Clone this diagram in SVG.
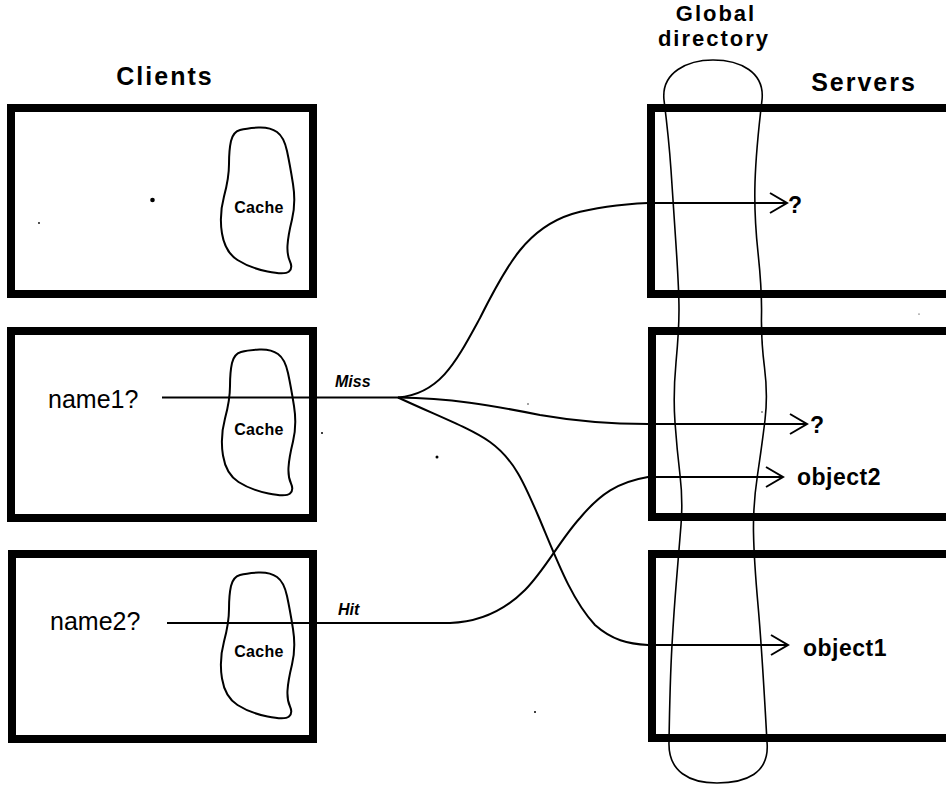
<svg xmlns="http://www.w3.org/2000/svg" width="946" height="785" viewBox="0 0 946 785">
<style>
.box{fill:none;stroke:#000;stroke-width:8}
.blob{fill:none;stroke:#000;stroke-width:2;stroke-linejoin:round}
.dir{fill:none;stroke:#000;stroke-width:1.6}
.conn{fill:none;stroke:#000;stroke-width:2}
.title{font-family:"Liberation Sans",Arial,sans-serif;font-weight:bold;font-size:25px;fill:#000;letter-spacing:2px;text-anchor:middle}
.small-title{font-size:22px;letter-spacing:2px}
.lbl{font-family:"Liberation Sans",Arial,sans-serif;font-size:25px;fill:#000}
.obj{font-family:"Liberation Sans",Arial,sans-serif;font-weight:bold;font-size:23px;fill:#000;letter-spacing:0.5px}
.cache{font-family:"Liberation Sans",Arial,sans-serif;font-weight:bold;font-size:16px;fill:#000;text-anchor:middle;letter-spacing:0.3px}
.edge{font-family:"Liberation Sans",Arial,sans-serif;font-weight:bold;font-style:italic;font-size:16px;fill:#000}
</style>
<defs>
<path id="cacheShape" d="M258.5 127.5 Q270 127 277 132 Q284 137 287 151 Q290 165 293 184 Q296 203 292 219.5 Q288 236 287.5 245.5 Q287 255 290 261.5 Q293 268 289 271.5 Q285 275 267.5 271.5 Q250 268 237.5 260 Q225 252 222 233.5 Q219 215 224 196.5 Q229 178 229 164 Q229 150 231 141 Q233 132 240 130 Q247 128 258.5 127.5 Z"/>
<marker id="vhead" markerUnits="userSpaceOnUse" markerWidth="26" markerHeight="26" viewBox="-23 -13 26 26" refX="0" refY="0" orient="auto">
<path d="M-17 -10 L0 0 L-17 10" fill="none" stroke="#000" stroke-width="2"/>
</marker>
</defs>
<rect width="946" height="785" fill="#fff"/>

<text class="title" x="165" y="85">Clients</text>
<text class="title" x="864" y="91">Servers</text>
<text class="title small-title" x="716" y="21">Global</text>
<text class="title small-title" x="714" y="46">directory</text>

<g id="client1">
<rect class="box" x="11" y="108" width="302" height="186"/>
<use href="#cacheShape" class="blob"/>
<text class="cache" x="259" y="213">Cache</text>
</g>
<g id="client2">
<rect class="box" x="11" y="331" width="302" height="187"/>
<use href="#cacheShape" class="blob" transform="translate(1,222)"/>
<text class="cache" x="259" y="435">Cache</text>
<text class="lbl" x="48" y="408">name1?</text>
</g>
<g id="client3">
<rect class="box" x="12" y="554" width="301" height="185"/>
<use href="#cacheShape" class="blob" transform="translate(0,445)"/>
<text class="cache" x="259" y="657">Cache</text>
<text class="lbl" x="50" y="630">name2?</text>
</g>

<g id="server1">
<rect class="box" x="651" y="108" width="320" height="186"/>
<text class="obj" x="788" y="213">?</text>
</g>
<g id="server2">
<rect class="box" x="652" y="331" width="320" height="186"/>
<text class="obj" x="810" y="433">?</text>
<text class="obj" x="797" y="485">object2</text>
</g>
<g id="server3">
<rect class="box" x="652" y="554" width="320" height="184"/>
<text class="obj" x="803" y="656">object1</text>
</g>

<g id="global-directory">
<path class="dir" d="M664 100 C661 72 688 60 713 60 C740 60 765 72 762 100 Q756 150 755 182.5 Q754 215 758 252.5 Q762 290 761.5 315 Q761 340 764.5 367.5 Q768 395 765 420 Q762 445 757.5 475 Q753 505 753.5 532.5 Q754 560 758 605 Q762 650 767 742 C770 774 745 783 717 783 C690 783 668 772 669 742 Q670 680 672 645 Q674 610 676.5 580 Q679 550 681 525 Q683 500 680 475 Q677 450 675 422.5 Q673 395 676 362.5 Q679 330 679 310 Q679 290 676 245 Q673 200 671 170 Q669 140 664 100 Z"/>
</g>

<g id="connectors">
<path class="conn" d="M162 397.5 H398"/>
<path class="conn" marker-end="url(#vhead)" d="M398 397.5 C440 394 456 362 480 318 C508 262 528 228 572 214 C600 206 625 204 648 203 H787"/>
<path class="conn" marker-end="url(#vhead)" d="M398 397.5 C450 398 490 405 540 415 C580 422 612 424 648 424 H807"/>
<path class="conn" marker-end="url(#vhead)" d="M398 397.5 C440 417 470 428 490 442 C515 460 525 485 540 520 C558 563 572 600 595 625 C612 640 628 644 648 645 H788"/>
<path class="conn" marker-end="url(#vhead)" d="M167 623 H450 C480 622 505 610 525 590 C545 570 560 540 580 518 C600 494 618 482 648 477 H783"/>
<text class="edge" x="335" y="387">Miss</text>
<text class="edge" x="338" y="615">Hit</text>
</g>

<g id="specks" fill="#000">
<circle cx="152.5" cy="200" r="2.3"/>
<circle cx="39" cy="223" r="0.9"/>
<circle cx="322" cy="433" r="1"/>
<circle cx="437" cy="457" r="1.5"/>
<circle cx="535" cy="712" r="1"/>
<circle cx="528" cy="404" r="0.7"/>
<circle cx="762" cy="412" r="0.7"/>
<circle cx="919" cy="314" r="0.6"/>
</g>
</svg>
